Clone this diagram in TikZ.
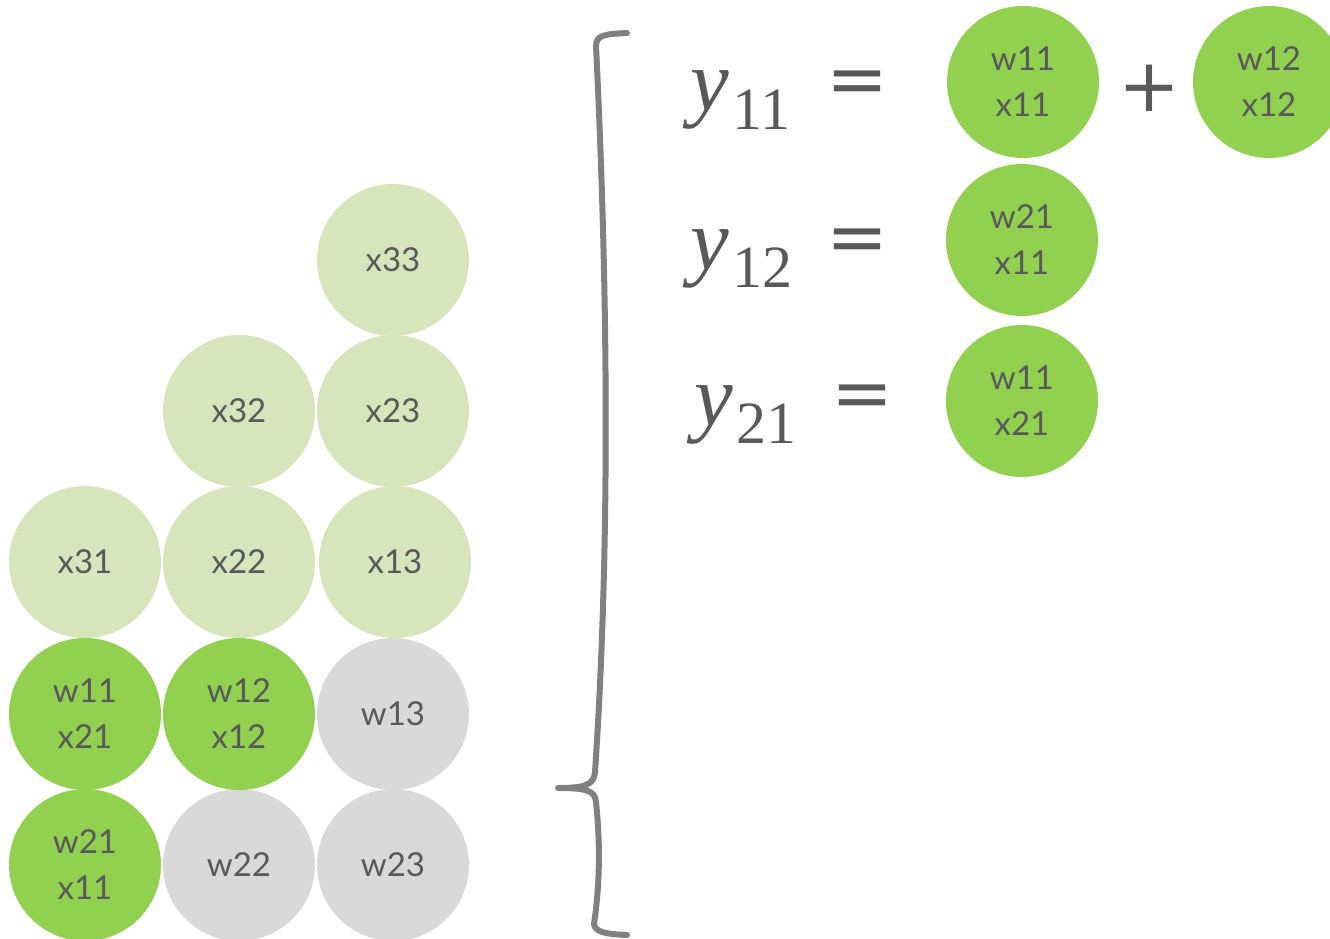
\documentclass[tikz,border=0pt]{standalone}
\usepackage{fontspec}
\newfontfamily\cfont{Lato}
\newfontfamily\yfont{Liberation Serif}
\newfontfamily\opfont{DejaVu Sans}
\definecolor{grn}{HTML}{92D050}
\definecolor{lgrn}{HTML}{D8E4BC}
\definecolor{lgray}{HTML}{D9D9D9}
\definecolor{txt}{HTML}{595959}
\definecolor{brc}{HTML}{808080}
\newcommand{\yvar}[1]{{\fontsize{87}{90}\selectfont\itshape y}\kern4pt\raisebox{-18pt}{\fontsize{60}{64}\selectfont #1}}
\tikzset{
  cell/.style={circle, minimum size=152pt, inner sep=0pt, text=txt, align=center,
    font=\cfont\fontsize{33}{46}\selectfont},
  act/.style={cell, fill=grn},
  inp/.style={cell, fill=lgrn},
  wgt/.style={cell, fill=lgray},
  yeq/.style={text=txt, inner sep=0pt, anchor=base west, font=\yfont},
  op/.style={text=txt, inner sep=0pt, font=\opfont\fontsize{74}{80}\selectfont},
}
\begin{document}
\begin{tikzpicture}[x=1pt,y=-1pt]
\useasboundingbox (0,0) rectangle (1330,939);
\clip (0,0) rectangle (1330,939);
% left grid
\node[act] (a1) at (85,865) {w21\\x11};
\node[act] (a2) at (85,714) {w11\\x21};
\node[inp] (a3) at (85,562) {x31};
\node[wgt] (b1) at (239,865) {w22};
\node[act] (b2) at (239,714) {w12\\x12};
\node[inp] (b3) at (239,562) {x22};
\node[inp] (b4) at (239,411) {x32};
\node[wgt] (c1) at (393,865) {w23};
\node[wgt] (c2) at (393,714) {w13};
\node[inp] (c3) at (395,562) {x13};
\node[inp] (c4) at (393,411) {x23};
\node[inp] (c5) at (393,260) {x33};
% brace
\draw[brc, line width=6pt, line cap=round, line join=round]
  (627,33) .. controls (605,34) and (596,35) .. (596,46)
  .. controls (606,250) and (612,520) .. (595,772)
  .. controls (594,785) and (585,788) .. (558,788)
  .. controls (585,788) and (595,790) .. (596,802)
  .. controls (601,850) and (599,890) .. (594,924)
  .. controls (595,932) and (605,934) .. (627,935);
% equations
\node[yeq] (y1) at (690,111) {\yvar{11}};
\node[op] (e1) at (857,88) {=};
\node[act] (r1) at (1023,82) {w11\\x11};
\node[op] (p1) at (1149,88) {+};
\node[act] (r2) at (1269,82) {w12\\x12};
\node[yeq] (y2) at (690,269) {\yvar{12}};
\node[op] (e2) at (857,246) {=};
\node[act] (r3) at (1022,240) {w21\\x11};
\node[yeq] (y3) at (694,425) {\yvar{21}};
\node[op] (e3) at (862,402) {=};
\node[act] (r4) at (1022,401) {w11\\x21};
\end{tikzpicture}
\end{document}
